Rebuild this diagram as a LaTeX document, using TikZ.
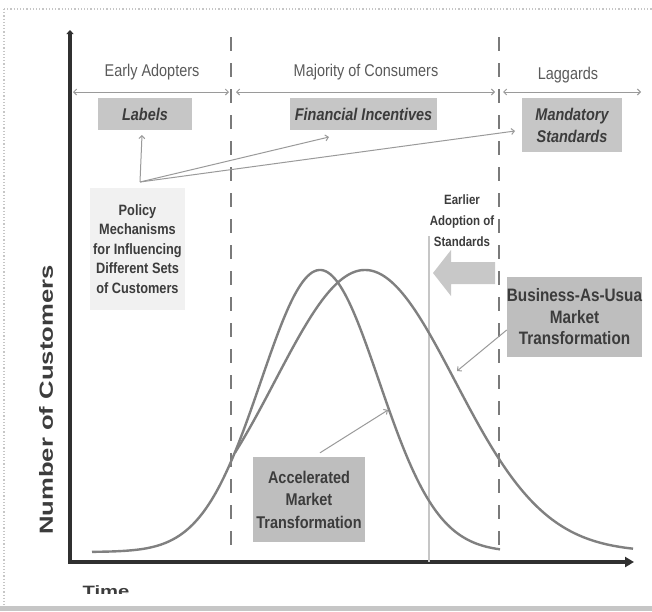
\documentclass[tikz,border=0pt]{standalone}
\usepackage{fontspec}
\setmainfont{Liberation Sans}
\newfontfamily\nar{Liberation Sans}[FakeStretch=0.85]
\newfontfamily\wid{Liberation Sans}[FakeStretch=1.35]
\usetikzlibrary{arrows.meta}
\definecolor{hdr}{HTML}{5A5A5A}
\definecolor{txt}{HTML}{3C3C3C}
\definecolor{boxg}{HTML}{C6C6C6}
\definecolor{boxd}{HTML}{BEBEBE}
\definecolor{boxl}{HTML}{F1F1F1}
\definecolor{crv}{HTML}{808080}
\definecolor{dsh}{HTML}{7A7A7A}
\definecolor{thin}{HTML}{9A9A9A}
\definecolor{axc}{HTML}{303030}
\definecolor{bigarr}{HTML}{C8C8C8}
\begin{document}
\begin{tikzpicture}[x=1pt,y=-1pt,
  hdrtext/.style={font=\nar\fontsize{17}{20}\selectfont, text=hdr, inner sep=0pt},
  harrow/.style={draw=thin, line width=1pt, {Straight Barb[length=3pt,width=6pt]}-{Straight Barb[length=3pt,width=6pt]}},
  ibox/.style={fill=boxg, inner sep=0pt, align=center, text=txt, font=\nar\bfseries\itshape\fontsize{17}{22}\selectfont},
  parrow/.style={draw=thin, line width=1pt, -{Straight Barb[length=3pt,width=6pt]}},
  dashln/.style={draw=dsh, line width=2.4pt, dash pattern=on 14pt off 12pt},
  crvln/.style={draw=crv, line width=2.4pt},
  axln/.style={draw=axc, line width=3.2pt},
  btext/.style={inner sep=0pt, align=center, text=txt, font=\nar\bfseries\fontsize{17}{22.5}\selectfont}
]
\useasboundingbox (0,0) rectangle (652,611);
\fill[white] (0,0) rectangle (652,611);
% frame
\draw[gray!45, line width=1.2pt, dotted] (4,9) -- (652,9);
\draw[gray!45, line width=1.2pt, dotted] (4,9) -- (4,606);
\fill[gray!45] (0,606) rectangle (652,611);

% axes
\coordinate (org) at (70,562);
\coordinate (ytop) at (70,30);
\coordinate (xend) at (634,562);
\draw[axln, -{Triangle[length=4pt,width=7pt]}] (org) -- (ytop);
\draw[axln, -{Triangle[length=9pt,width=10pt]}] ([xshift=-1.6pt]org) -- (xend);

% dashed lines
\coordinate (d1t) at (231,37); \coordinate (d1b) at (231,551);
\coordinate (d2t) at (499,37); \coordinate (d2b) at (499,551);
\draw[dashln] (d1t) -- (d1b);
\draw[dashln] (d2t) -- (d2b);

% thin vertical line
\coordinate (vt) at (429,236); \coordinate (vb) at (429,562);
\draw[draw=gray!45, line width=1.3pt] (vt) -- (vb);

% headers
\node[hdrtext] (ea) at (152,72) {Early Adopters};
\node[hdrtext] (mc) at (366,72) {Majority of Consumers};
\node[hdrtext] (lg) at (568,75) {Laggards};
\coordinate (a1l) at (73,92); \coordinate (a1r) at (229,92);
\coordinate (a2l) at (236,92); \coordinate (a2r) at (495,92);
\coordinate (a3l) at (503,92); \coordinate (a3r) at (641,92);
\draw[harrow] (a1l) -- (a1r);
\draw[harrow] (a2l) -- (a2r);
\draw[harrow] (a3l) -- (a3r);

% policy boxes
\node[ibox, minimum width=94pt, minimum height=32pt] (lab) at (145,114) {Labels};
\node[ibox, minimum width=147pt, minimum height=32pt] (fi) at (363.5,114) {Financial Incentives};
\node[ibox, minimum width=100pt, minimum height=54pt] (ms) at (572,125) {Mandatory\\Standards};

\node[fill=boxl, inner sep=0pt, minimum width=95pt, minimum height=122pt, align=center, text=txt,
  font=\nar\bfseries\fontsize{15}{19.6}\selectfont] (pol) at (137.5,249)
  {Policy\\Mechanisms\\for Influencing\\Different Sets\\of Customers};

\coordinate (src) at (140,182);
\coordinate (t1) at (142,135);
\coordinate (t2) at (329,137);
\coordinate (t3) at (515,131);
\draw[parrow] (src) -- (t1);
\draw[parrow] (src) -- (t2);
\draw[parrow] (src) -- (t3);

% curves
\draw[crvln] plot[domain=92:500, samples=90, smooth] (\x, {552-282*exp(-0.5*((\x-320)/59)^2)});
\draw[crvln] plot[domain=235:633, samples=90, smooth] (\x, {552-282*exp(-0.5*((\x-365)/90)^2)});

% earlier adoption
\node[inner sep=0pt, align=center, text=txt, font=\nar\bfseries\fontsize{13.5}{21}\selectfont] (eas) at (462,221)
  {Earlier\\Adoption of\\Standards};
\fill[bigarr] (433,273) -- (451,250) -- (451,262) -- (495,262) -- (495,284) -- (451,284) -- (451,296) -- cycle;

% BAU box
\node[fill=boxd, inner sep=0pt, minimum width=131pt, minimum height=80pt, align=center, text=txt,
  font=\nar\bfseries\fontsize{18}{21.5}\selectfont] (bau) at (574.5,317)
  {Business-As-Usua\\Market\\Transformation};
\coordinate (baut) at (457,371);
\draw[parrow] ([yshift=-13pt]bau.west) -- (baut);

% Accelerated box
\node[btext, fill=boxd, minimum width=112pt, minimum height=85pt] (acc) at (309,499.5)
  {Accelerated\\Market\\Transformation};
\coordinate (acct) at (388,410);
\draw[parrow] ([xshift=11pt,yshift=4pt]acc.north) -- (acct);

% axis labels
\node[rotate=90, inner sep=0pt, text=txt, font=\wid\bfseries\fontsize{19}{22}\selectfont] (ylab) at (46,400) {Number of Customers};
\begin{scope}
\clip (0,0) rectangle (652,593);
\node[anchor=base, inner sep=0pt, text=txt, font=\wid\bfseries\fontsize{15}{18}\selectfont] (xlab) at (106,596) {Time};
\end{scope}
\end{tikzpicture}
\end{document}
